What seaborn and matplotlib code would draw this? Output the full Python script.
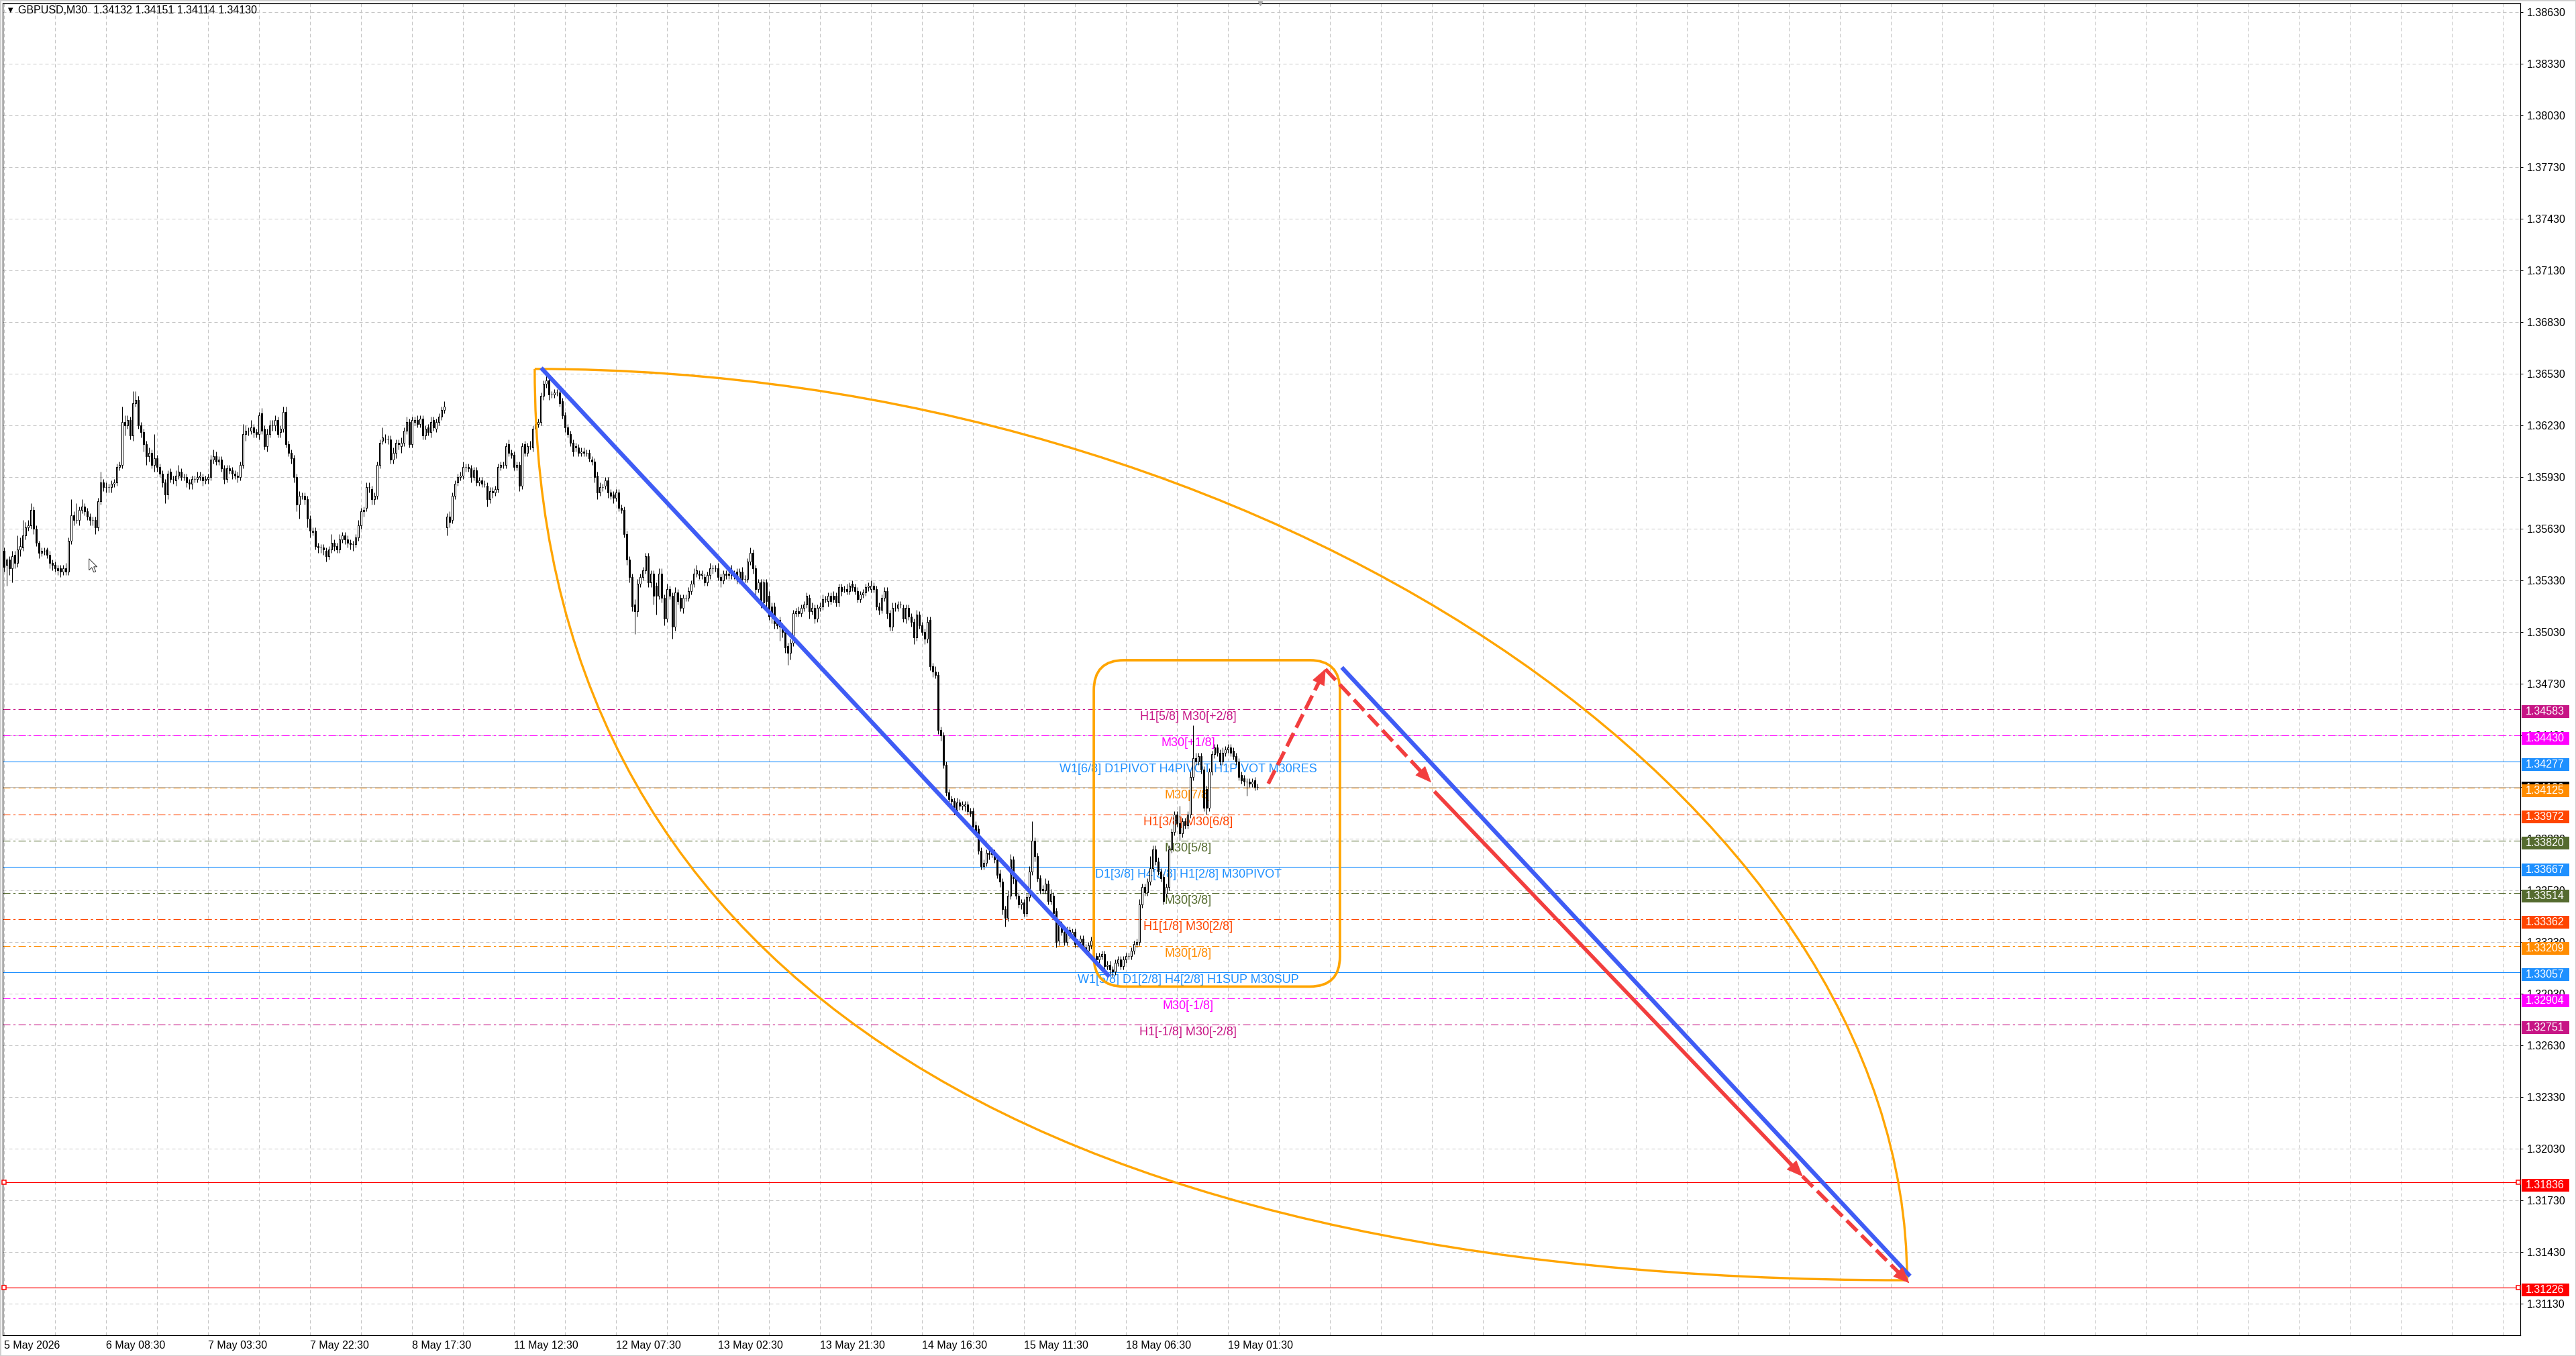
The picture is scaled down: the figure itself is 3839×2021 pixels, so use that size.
import numpy as np
import pandas as pd
import matplotlib
matplotlib.use("Agg")
import matplotlib.pyplot as plt
import matplotlib.transforms as mtransforms
from matplotlib.patches import Rectangle, FancyBboxPatch, PathPatch, Polygon
from matplotlib.path import Path
import seaborn as sns

sns.set_style("white")
plt.rcParams['font.family'] = ['Liberation Sans', 'DejaVu Sans']

# ---------------------------------------------------------------- data
header_text = "GBPUSD,M30  1.34132 1.34151 1.34114 1.34130"
base_price = 1.30
pip = 0.0001

open_pips = [
 550,542,545,540,548,543,551,552,559,564, 565,574,563,555,549,550,551,548,543,542,
 540,540,538,540,538,556,571,568,568,574, 576,573,570,568,568,564,579,590,587,587,
 587,589,590,599,600,625,623,626,617,636, 638,623,619,612,605,607,600,604,599,595,
 590,583,596,592,591,594,596,593,593,590, 589,592,592,593,593,591,592,593,603,605,
 602,603,598,592,598,597,595,594,593,600, 618,620,620,622,619,618,630,621,611,618,
 623,623,626,619,621,631,612,607,604,593, 577,582,582,580,569,561,562,553,552,552,
 550,547,551,555,553,551,557,559,557,555, 554,554,558,565,573,575,587,586,580,582,
 600,614,615,615,615,603,607,613,611,613, 620,625,612,625,626,624,627,617,622,619,
 626,621,625,628,632,564,570,568,582,590, 593,594,599,599,598,593,597,590,591,589,
 588,580,585,584,586,599,600,600,612,607, 606,599,600,588,612,607,611,610,621,624,
 625,640,647,649,641,641,642,642,637,629, 622,618,613,611,610,607,608,607,607,603,
 602,594,584,587,588,591,584,583,581,584, 575,574,560,545,535,519,515,531,535,539,
 547,532,537,530,524,537,523,511,528,524, 506,526,523,517,523,523,527,531,537,537,
 536,535,532,536,540,540,540,535,533,537, 537,538,536,538,534,538,534,534,544,549,
 540,528,532,520,532,524,518,518,509,510, 506,503,495,491,497,514,515,514,517,519,
 523,515,517,511,517,518,522,521,524,524, 524,520,529,528,528,527,531,529,527,522,
 525,526,529,528,530,528,518,516,523,527, 514,506,517,517,519,517,511,517,512,509,
 500,513,507,503,499,510,483,480,478,446, 443,426,410,406,405,400,404,402,402,403,
 399,399,391,389,376,367,369,375,374,375, 371,363,358,342,337,350,371,360,350,345,
 346,340,349,364,382,373,360,354,353,357, 347,350,341,324,333,329,323,330,327,329,
 322,323,325,320,318,321,324,315,313,315, 316,309,310,307,306,311,313,309,313,315,
 315,318,322,323,345,355,352,358,366,377, 370,364,361,351,355,377,387,397,392,386,
 393,391,397,419,430,428,431,423,412,401, 422,432,436,433,428,433,435,436,434,431,
 428,420,418,416,416,415,417,413.2]

close_pips = [
 541,545,540,547,543,551,553,559,564,565, 574,563,555,549,550,550,548,543,542,540,
 539,538,540,538,556,571,568,568,574,576, 573,570,568,568,564,579,590,587,587,587,
 589,590,599,600,625,623,626,617,636,638, 623,619,612,605,607,600,604,599,595,590,
 583,595,592,592,594,596,593,593,590,589, 592,592,593,594,591,592,593,603,605,602,
 603,598,592,598,597,595,594,593,600,618, 620,620,622,619,618,629,620,611,618,623,
 623,626,618,621,631,612,607,604,593,577, 582,582,580,569,562,562,553,552,552,551,
 547,551,555,553,551,557,559,557,555,554, 554,558,565,573,574,587,587,580,582,600,
 613,616,615,615,603,607,613,612,613,620, 625,612,626,626,624,627,617,621,619,625,
 622,625,628,632,634,570,567,582,589,593, 594,599,599,598,593,597,590,591,589,589,
 580,585,584,586,599,600,600,611,607,606, 599,600,588,611,607,611,611,621,624,625,
 640,647,649,641,641,642,642,636,629,622, 618,613,608,610,607,608,607,607,604,602,
 593,584,587,587,591,584,582,581,584,575, 574,560,545,535,518,515,531,535,539,547,
 532,537,524,524,537,523,511,528,524,506, 526,521,517,523,523,527,531,537,539,536,
 537,532,536,540,540,540,535,533,537,536, 536,536,537,534,538,534,534,544,549,540,
 528,532,520,532,521,512,512,508,507,506, 503,494,491,497,514,515,514,517,519,524,
 515,517,511,517,518,522,522,524,521,522, 520,529,527,528,527,530,529,527,522,525,
 526,529,530,530,528,518,516,523,527,514, 506,517,517,519,519,511,517,512,509,500,
 513,507,503,499,509,483,480,478,446,443, 426,410,406,405,400,404,402,403,403,399,
 398,390,387,376,367,369,375,374,376,371, 362,358,342,337,350,371,360,350,345,346,
 340,349,364,382,373,360,353,353,357,347, 351,340,323,333,329,323,330,327,329,322,
 323,325,320,318,321,324,315,313,315,316, 309,310,307,306,311,313,309,313,315,315,
 318,322,323,345,355,352,358,366,377,370, 364,360,347,355,377,387,397,392,386,393,
 391,397,419,430,428,431,423,401,401,422, 432,436,433,428,433,435,436,433,431,428,
 419,417,416,416,415,416,413,413.0]

wick_up_pips = [
 2,1,2,3,2,8,5,9,3,3,4,2,2,1,2,2,1,2,2,2,
 2,2,2,3,2,9,2,10,2,4,2,2,2,2,2,2,6,2,3,2,
 2,2,2,2,9,4,3,2,7,5,2,2,2,2,3,2,14,2,2,2,
 2,2,2,2,3,4,2,2,2,2,2,2,3,2,2,2,2,3,4,3,
 2,2,2,2,2,2,2,2,2,6,3,2,4,2,2,2,3,2,3,3,
 3,3,2,2,3,3,2,2,2,2,3,2,2,2,2,2,2,2,2,2,
 2,2,5,2,2,3,2,2,2,2,2,2,3,2,2,3,3,2,2,2,
 2,6,3,2,2,3,2,2,3,2,3,2,2,2,3,2,2,2,2,3,
 2,2,2,2,3,2,3,2,2,2,2,3,2,2,2,2,2,2,2,2,
 2,2,2,2,2,2,2,2,3,2,2,2,2,2,2,2,3,2,2,2,
 2,2,4,2,2,2,2,2,2,2,2,2,2,2,2,2,2,2,2,2,
 2,2,3,2,2,2,2,2,2,2,2,2,2,2,2,3,3,2,2,2,
 2,2,2,2,3,3,2,3,2,2,3,2,2,2,2,2,2,3,3,2,
 2,2,2,3,2,2,3,2,2,2,2,4,2,2,2,3,2,2,3,2,
 2,2,2,2,2,3,2,2,2,2,2,2,2,2,2,2,3,2,2,2,
 2,3,2,2,2,3,2,2,2,3,2,2,2,2,3,2,2,2,2,2,
 2,2,2,3,2,2,2,2,2,2,2,3,3,2,2,2,2,2,2,2,
 3,2,2,2,3,2,2,3,2,2,2,2,2,2,2,3,2,2,2,2,
 2,2,2,2,2,2,2,3,2,2,2,2,2,2,3,3,2,2,2,2,
 2,2,3,11,2,2,2,2,3,2,3,2,2,2,2,2,2,2,2,2,
 2,2,2,2,2,2,2,2,2,2,2,2,2,2,2,2,2,2,2,2,
 2,2,2,3,2,2,2,7,2,2,2,2,2,2,2,2,2,2,10,2,
 2,2,3,19,3,2,2,2,2,2,2,2,2,2,3,2,2,2,2,2,
 2,2,2,2,2,2,2,1.9]

wick_down_pips = [
 3,12,4,8,3,2,4,2,2,2,2,3,2,3,2,2,2,3,3,2,
 3,3,2,2,2,2,3,2,3,2,2,2,3,3,4,2,2,2,3,3,
 3,2,2,2,2,6,2,2,3,2,2,3,4,5,3,2,4,3,2,3,
 5,3,2,3,3,2,2,2,3,3,3,2,2,2,3,2,3,2,2,2,
 2,2,3,2,2,3,2,3,2,2,4,3,2,3,2,3,2,2,3,2,
 3,3,2,3,2,2,2,3,3,4,8,2,3,5,4,2,2,3,3,3,
 3,2,2,3,2,2,2,3,3,3,4,2,2,2,3,2,3,3,3,2,
 2,2,2,3,2,2,3,3,4,2,2,2,2,2,2,2,2,2,2,3,
 2,2,2,2,2,5,3,2,2,2,2,2,3,2,3,2,2,2,2,2,
 4,2,3,2,2,2,2,2,2,2,2,2,3,2,2,2,2,2,2,2,
 2,2,2,3,2,2,2,2,2,3,2,2,3,2,2,2,2,2,2,2,
 3,4,2,2,2,3,2,3,2,2,2,2,3,3,3,13,3,2,2,2,
 3,3,5,11,2,3,4,2,2,7,2,2,2,3,2,2,2,2,2,2,
 2,2,2,2,3,2,2,4,2,2,2,2,2,3,3,3,2,2,2,3,
 3,2,3,2,3,2,4,3,2,8,3,3,7,4,2,2,2,2,2,2,
 4,2,3,2,2,2,2,3,2,2,2,2,3,2,2,2,2,2,2,2,
 2,2,2,2,2,2,3,2,2,3,2,2,2,2,2,2,3,2,3,4,
 2,2,2,3,2,2,3,2,2,3,2,2,4,3,3,2,2,2,3,2,
 2,2,3,2,2,2,2,3,2,2,2,3,3,5,2,2,3,2,2,3,
 2,2,2,2,3,2,2,2,2,2,2,2,3,3,2,2,2,2,2,2,
 2,2,2,2,2,2,2,2,2,2,2,2,3,3,2,2,2,2,2,2,
 2,2,2,2,2,2,2,2,2,2,2,2,2,2,2,2,2,2,4,2,
 2,2,2,2,2,2,2,2,4,2,2,2,2,2,2,2,2,2,2,2,
 2,2,2,8,2,2,2,1.6]

time_labels = ["5 May 2026", "6 May 08:30", "7 May 03:30", "7 May 22:30", "8 May 17:30",
               "11 May 12:30", "12 May 07:30", "13 May 02:30", "13 May 21:30",
               "14 May 16:30", "15 May 11:30", "18 May 06:30", "19 May 01:30"]
bars_per_label = 38
bars_per_grid = 19

price_ticks_top = 1.38630
price_tick_step = 0.00300
price_tick_count = 26

level_prices = [1.34583, 1.34430, 1.34277, 1.34125, 1.33972, 1.33820, 1.33667,
                1.33514, 1.33362, 1.33209, 1.33057, 1.32904, 1.32751]
level_texts = ["H1[5/8] M30[+2/8]", "M30[+1/8]", "W1[6/8] D1PIVOT H4PIVOT H1PIVOT M30RES",
               "M30[7/8]", "H1[3/8] M30[6/8]", "M30[5/8]", "D1[3/8] H4[3/8] H1[2/8] M30PIVOT",
               "M30[3/8]", "H1[1/8] M30[2/8]", "M30[1/8]", "W1[5/8] D1[2/8] H4[2/8] H1SUP M30SUP",
               "M30[-1/8]", "H1[-1/8] M30[-2/8]"]
level_colors = ["#C71585", "#FF00FF", "#1E90FF", "#FF8C00", "#FF4500", "#556B2F", "#1E90FF",
                "#556B2F", "#FF4500", "#FF8C00", "#1E90FF", "#FF00FF", "#C71585"]
level_solid = [False, False, True, False, False, False, True, False, False, False, True, False, False]
level_label_bar = 441.2

target_prices = [1.31836, 1.31226]
bid_price = 1.34130

trend1_bars = [200.2, 411.9]
trend1_prices = [1.36564, 1.33030]
trend2_bars = [498.5, 710.2]
trend2_prices = [1.34825, 1.31291]

red_start_bars = [471.1, 492.4, 533.0, 670.1]
red_start_prices = [1.34150, 1.34815, 1.34105, 1.31871]
red_end_bars = [492.4, 531.7, 670.1, 709.8]
red_end_prices = [1.34815, 1.34159, 1.31871, 1.31252]
red_dashed = [True, True, False, True]

arc_start_bar, arc_start_price = 197.8, 1.36558
arc_end_bar, arc_end_price = 709.1, 1.31267

box_bars = [406.1, 497.8]
box_prices = [1.32972, 1.34867]

# ---------------------------------------------------------------- layout
W_PX, H_PX, DPI = 3839, 2021, 100
PX = 72.0 / DPI                      # one pixel in points
AX_L, AX_R, AX_T, AX_B = 4, 3756, 5, 1990
BAR_PX, BAR0_PX = 4.0, 5.7
PRICE_PX = 1.0 / 25670.0
Y_REF_PX, Y_REF_PRICE = 18.0, 1.38630

fig = plt.figure(figsize=(W_PX / DPI, H_PX / DPI), dpi=DPI)
fig.patch.set_facecolor("white")
ax = fig.add_axes([AX_L / W_PX, 1 - AX_B / H_PX, (AX_R - AX_L) / W_PX, (AX_B - AX_T) / H_PX])
ax.set_facecolor("white")
xlim = ((AX_L - BAR0_PX) / BAR_PX, (AX_R - BAR0_PX) / BAR_PX)
ylim = (Y_REF_PRICE - (AX_B - Y_REF_PX) * PRICE_PX, Y_REF_PRICE - (AX_T - Y_REF_PX) * PRICE_PX)
ax.set_xlim(*xlim)
ax.set_ylim(*ylim)
for s in ax.spines.values():
    s.set_color("black")
    s.set_linewidth(PX * 1.2)

# grid
ticks = price_ticks_top - price_tick_step * np.arange(price_tick_count)
grid_style = dict(color="#C4C4C4", lw=PX, ls=(0, (5, 4)), zorder=0.5)
for p in ticks:
    ax.axhline(p, **grid_style)
for b in np.arange(0, xlim[1], bars_per_grid):
    ax.axvline(b, **grid_style)

# level lines + labels
for p, txt, col, solid in zip(level_prices, level_texts, level_colors, level_solid):
    ax.axhline(p, color=col, lw=PX * 1.1, ls="-" if solid else (0, (10, 4, 3, 4)), zorder=1)
    ax.text(level_label_bar, p - 3 * PRICE_PX, txt, ha="center", va="top",
            color=col, fontsize=13, zorder=2)
ax.axhline(bid_price, color="#BEBEBE", lw=PX * 1.1, zorder=1)
for p in target_prices:
    ax.axhline(p, color="#FF0000", lw=PX * 1.2, zorder=1)
    ax.plot([xlim[0] + 0.6, xlim[1] - 0.8], [p, p], ls="none", marker="s", ms=4,
            mfc="white", mec="#FF0000", mew=PX * 1.5, zorder=6, clip_on=False)

# candles
o = base_price + np.array(open_pips, dtype=float) * pip
c = base_price + np.array(close_pips, dtype=float) * pip
n = min(len(o), len(c), len(wick_up_pips), len(wick_down_pips))
o, c = o[:n], c[:n]
hi = np.maximum(o, c) + np.array(wick_up_pips[:n], dtype=float) * pip
lo = np.minimum(o, c) - np.array(wick_down_pips[:n], dtype=float) * pip
df = pd.DataFrame({"bar": np.arange(n), "open": o, "high": hi, "low": lo, "close": c})
df["bottom"] = df[["open", "close"]].min(axis=1)
df["height"] = (df["close"] - df["open"]).abs().clip(lower=1e-7)
bull = df["close"] >= df["open"]
ax.vlines(df["bar"], df["low"], df["high"], colors="black", linewidth=PX, zorder=4)
ax.bar(df.loc[bull, "bar"], df.loc[bull, "height"], bottom=df.loc[bull, "bottom"], width=0.5,
       color="white", edgecolor="black", linewidth=PX, zorder=5)
ax.bar(df.loc[~bull, "bar"], df.loc[~bull, "height"], bottom=df.loc[~bull, "bottom"], width=0.5,
       color="black", edgecolor="black", linewidth=PX, zorder=5)

# blue trend lines (seaborn)
blue = "#3F5CF5"
for bx, py in ((trend1_bars, trend1_prices), (trend2_bars, trend2_prices)):
    sns.lineplot(x=bx, y=py, ax=ax, color=blue, lw=4.5, estimator=None, sort=False,
                 zorder=7, solid_capstyle="butt")

# orange arcs (lens)
orange = "#FFA500"
P0 = (arc_start_bar, arc_start_price)
P3 = (arc_end_bar, arc_end_price)
dx, dy = P3[0] - P0[0], P0[1] - P3[1]
au = 0.53
al = 0.65
upper = Path([P0, (P0[0] + au * dx, P0[1]), (P3[0], P3[1] + au * dy), P3],
             [Path.MOVETO, Path.CURVE4, Path.CURVE4, Path.CURVE4])
lower = Path([P0, (P0[0], P0[1] - al * dy), (P3[0] - al * dx, P3[1]), P3],
             [Path.MOVETO, Path.CURVE4, Path.CURVE4, Path.CURVE4])
for pth in (upper, lower):
    ax.add_patch(PathPatch(pth, fill=False, edgecolor=orange, lw=2.4, zorder=6))

# orange rounded box
R_PX = 45
box = FancyBboxPatch((box_bars[0], box_prices[0]), box_bars[1] - box_bars[0],
                     box_prices[1] - box_prices[0],
                     boxstyle=f"round,pad=0,rounding_size={R_PX / BAR_PX}",
                     mutation_aspect=(R_PX * PRICE_PX) / (R_PX / BAR_PX),
                     fill=False, edgecolor=orange, lw=2.7, zorder=6)
ax.add_patch(box)

# red arrows
red = "#F23E3E"
def arrow_head(start, end, length=23, width=19):
    p0 = ax.transData.transform(start)
    p1 = ax.transData.transform(end)
    d = (p1 - p0) / np.hypot(*(p1 - p0))
    nrm = np.array([-d[1], d[0]])
    base = p1 - d * length
    pts = [p1, base + nrm * width / 2, base - nrm * width / 2]
    ax.add_patch(Polygon(pts, closed=True, transform=mtransforms.IdentityTransform(),
                         facecolor=red, edgecolor=red, lw=0.5, zorder=8))
    return ax.transData.inverted().transform(base + d * 3)

for sb, sp, eb, ep, dashed in zip(red_start_bars, red_start_prices, red_end_bars,
                                  red_end_prices, red_dashed):
    tip_base = arrow_head((sb, sp), (eb, ep))
    ax.plot([sb, tip_base[0]], [sp, tip_base[1]], color=red, lw=4.0,
            ls=(0, (4.0, 1.6)) if dashed else "-", dash_capstyle="butt",
            solid_capstyle="butt", zorder=8)

# mouse cursor (screen artefact)
cur_bar, cur_price = 31.75, 1.35456
cur_px = [(0, 0), (0, 17), (4, 13), (7, 20), (10, 19), (7, 12), (12, 12)]
ax.add_patch(Polygon([(cur_bar + x / BAR_PX, cur_price - y * PRICE_PX) for x, y in cur_px],
                     closed=True, facecolor="white", edgecolor="#333333", lw=PX, zorder=9))

# small chart-shift marker at the top
ax.plot([468], [ylim[1]], marker="v", ms=5, color="#A8A8A8", clip_on=False, zorder=12)

# axes ticks / labels
ax.yaxis.tick_right()
ax.set_yticks(ticks)
ax.set_yticklabels([f"{p:.5f}" for p in ticks])
ax.set_xticks(np.arange(len(time_labels)) * bars_per_label)
ax.set_xticklabels(time_labels, ha="left")
ax.tick_params(axis="y", length=3, width=PX, pad=4, labelsize=11.5, colors="black")
ax.tick_params(axis="x", length=3, width=PX, pad=3, labelsize=11.5, colors="black")
ax.set_xlabel("")
ax.set_ylabel("")
ax.grid(False)

# colored price labels on the right scale
trans = mtransforms.blended_transform_factory(ax.transAxes, ax.transData)
ax_w = AX_R - AX_L
bx0 = (AX_R + 2 - AX_L) / ax_w
bw = 71 / ax_w
tx0 = (AX_R + 8 - AX_L) / ax_w
def price_tag(p, col, off_px, z):
    yc = p - off_px * PRICE_PX
    ax.add_patch(Rectangle((bx0, yc - 9.5 * PRICE_PX), bw, 19 * PRICE_PX, transform=trans,
                           facecolor=col, edgecolor="none", clip_on=False, zorder=z))
    ax.text(tx0, yc, f"{p:.5f}", transform=trans, ha="left", va="center", color="white",
            fontsize=11.5, clip_on=False, zorder=z + 0.1)

price_tag(bid_price, "black", 1, 10)
for p, col in zip(level_prices, level_colors):
    price_tag(p, col, 4, 11)
for p in target_prices:
    price_tag(p, "#FF0000", 4, 11)

# header
fig.text(12 / W_PX, 1 - 15 / H_PX, "▼", fontsize=7, va="center", ha="left", color="black",
         family=["DejaVu Sans"])
fig.text(27 / W_PX, 1 - 15 / H_PX, header_text, fontsize=11.5, va="center", ha="left",
         color="black")

# window frame
fig.patches.append(Rectangle((0, 0), 1, 1, transform=fig.transFigure, fill=False,
                             edgecolor="#CFCFCF", lw=PX * 3))

fig.savefig("out.png", dpi=DPI)
